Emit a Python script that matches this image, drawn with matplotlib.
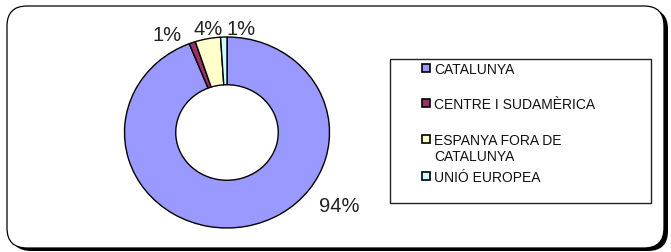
import matplotlib
matplotlib.use('Agg')
import matplotlib.pyplot as plt
from matplotlib.patches import FancyBboxPatch, Rectangle
from matplotlib.transforms import IdentityTransform

# ---- data ----
categories = ['CATALUNYA', 'CENTRE I SUDAMÈRICA', 'ESPANYA FORA DE CATALUNYA', 'UNIÓ EUROPEA']
values = [94, 1, 4, 1]
colors = ['#9999FF', '#993366', '#FFFFCC', '#CCFFFF']
legend_labels = ['CATALUNYA', 'CENTRE I SUDAMÈRICA', 'ESPANYA FORA DE\nCATALUNYA', 'UNIÓ EUROPEA']

# ---- layout / style ----
W, H = 671, 252
plt.rcParams['font.family'] = ['Liberation Sans', 'DejaVu Sans']
fig = plt.figure(figsize=(W / 100, H / 100), dpi=100)
fig.patch.set_facecolor('white')

def fx(x):
    return x / W

def fy(y):
    return 1 - y / H

# outer rounded frame with shadow (display pixels)
ident = IdentityTransform()
shadow = FancyBboxPatch((11, 1), 657, 242, boxstyle='round,pad=0,rounding_size=20',
                        transform=ident, facecolor='black', edgecolor='black', lw=0,
                        zorder=-3)
frame = FancyBboxPatch((7, 4), 657, 242, boxstyle='round,pad=0,rounding_size=20',
                       transform=ident, facecolor='white', edgecolor='black', lw=0.9,
                       zorder=-2)
fig.patches.extend([shadow, frame])

# donut
cx, cy, rx, ry = 227, 132.5, 102.5, 95.5
ax = fig.add_axes([fx(cx - rx), fy(cy + ry), 2 * rx / W, 2 * ry / H])
ax.set_zorder(1)
ax.patch.set_visible(False)
wedges, _ = ax.pie(values, colors=colors, startangle=90, counterclock=False,
                   radius=1.0,
                   wedgeprops=dict(width=0.5, edgecolor='black', linewidth=1.0))
ax.set_aspect('auto')
ax.set_xlim(-1, 1)
ax.set_ylim(-1, 1)
ax.axis('off')

total = sum(values)
label_pos = [(1.10, -0.77), (-0.585, 1.02), (-0.185, 1.08), (0.137, 1.08)]
for v, (lx, ly) in zip(values, label_pos):
    ax.text(lx, ly, f"{100 * v / total:.0f}%", ha='center', va='center',
            fontsize=14.5, color='#222222', clip_on=False)

# legend box (drawn manually to match the reference layout)
fig.patches.append(Rectangle((fx(390), fy(203)), fx(651) - fx(390), fy(59) - fy(203),
                             transform=fig.transFigure, facecolor='white',
                             edgecolor='#222222', lw=1.0, zorder=-1))
entry_y = [68, 103, 139, 176]
for lab, col, yy in zip(legend_labels, colors, entry_y):
    fig.patches.append(Rectangle((fx(422), fy(yy + 4)), 8 / W, 8 / H,
                                 transform=fig.transFigure, facecolor=col,
                                 edgecolor='black', lw=1.2, zorder=2))
    fig.text(fx(434), fy(yy - 5), lab, ha='left', va='top', fontsize=10,
             color='#111111', linespacing=1.2, zorder=3)

fig.savefig('out.png', dpi=100)
